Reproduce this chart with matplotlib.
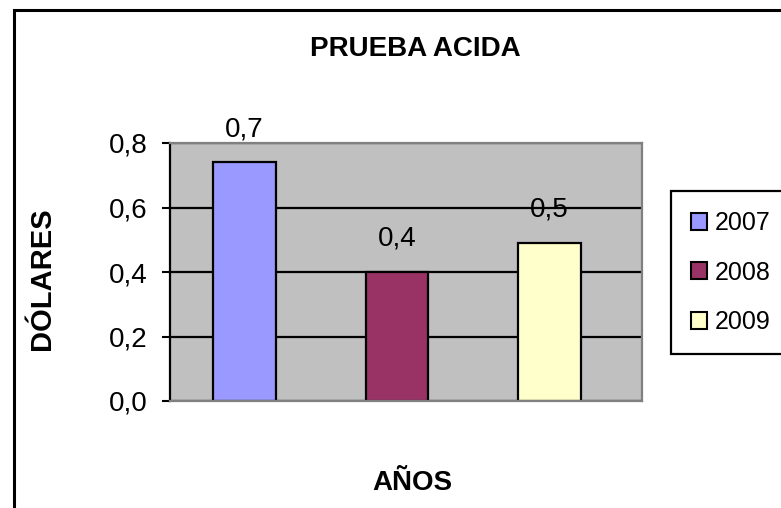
import matplotlib
matplotlib.use("Agg")
import matplotlib.pyplot as plt
from matplotlib.patches import Patch, Rectangle
from matplotlib.ticker import FuncFormatter

# datos de la grafica
years = ["2007", "2008", "2009"]
values = [0.74, 0.40, 0.49]
colors = ["#9999FF", "#993366", "#FFFFCC"]
y_ticks = [0.0, 0.2, 0.4, 0.6, 0.8]


def coma(v, pos=None):
    return f"{v:.1f}".replace(".", ",")


def main():
    plt.rcParams['font.family'] = ['Liberation Sans', 'DejaVu Sans']
    W, H = 781, 508
    fig = plt.figure(figsize=(W / 100, H / 100), dpi=100)

    # marco exterior (se sale por la derecha y abajo)
    fig.patches.append(Rectangle((14 / W, -0.2), 2.0, 1.2 - 9.5 / H,
                                 transform=fig.transFigure, fill=False,
                                 edgecolor="black", linewidth=2.2))

    ax = fig.add_axes([170 / W, 1 - 401 / H, 472 / W, 258 / H])
    ax.set_facecolor("#C0C0C0")

    x = list(range(len(years)))
    bars = ax.bar(x, values, width=0.41, color=colors, edgecolor="black",
                  linewidth=1.6, zorder=2)
    for b, v in zip(bars, values):
        ax.annotate(coma(round(v, 1)), (b.get_x() + b.get_width() / 2, v),
                    xytext=(0, 24), textcoords="offset points",
                    ha="center", va="center", fontsize=20)

    ax.set_xlim(-0.4885, 2.6066)
    ax.set_ylim(0, 0.8)
    ax.set_yticks(y_ticks)
    ax.yaxis.set_major_formatter(FuncFormatter(coma))
    ax.set_xticks([])
    ax.tick_params(axis="y", direction="out", length=6, width=1.5,
                   pad=10, labelsize=20)
    ax.grid(axis="y", color="black", linewidth=1.6)
    ax.set_axisbelow(True)

    for s in ["top", "right", "bottom"]:
        ax.spines[s].set_color("#808080")
        ax.spines[s].set_linewidth(1.6)
    ax.spines["left"].set_color("black")
    ax.spines["left"].set_linewidth(1.6)

    # textos
    fig.text(415 / W, 1 - 49 / H, "PRUEBA ACIDA", ha="center", va="center",
             fontsize=20, fontweight="bold")
    fig.text(42 / W, 1 - 279 / H, "DÓLARES", ha="center", va="center",
             rotation=90, fontsize=21, fontweight="bold")
    fig.text(412 / W, 1 - 483 / H, "AÑOS", ha="center", va="center",
             fontsize=20, fontweight="bold")

    # leyenda
    handles = [Patch(facecolor=c, edgecolor="black", linewidth=1.5) for c in colors]
    leg = fig.legend(handles, years, loc="upper left",
                     bbox_to_anchor=(671 / W, 1 - 191 / H), fontsize=18,
                     handlelength=0.65, handleheight=0.65, handletextpad=0.3,
                     labelspacing=1.02, borderpad=0.8, borderaxespad=0,
                     fancybox=False, framealpha=1, edgecolor="black")
    leg.get_frame().set_linewidth(1.6)

    fig.savefig("out.png", dpi=100)


if __name__ == "__main__":
    main()
